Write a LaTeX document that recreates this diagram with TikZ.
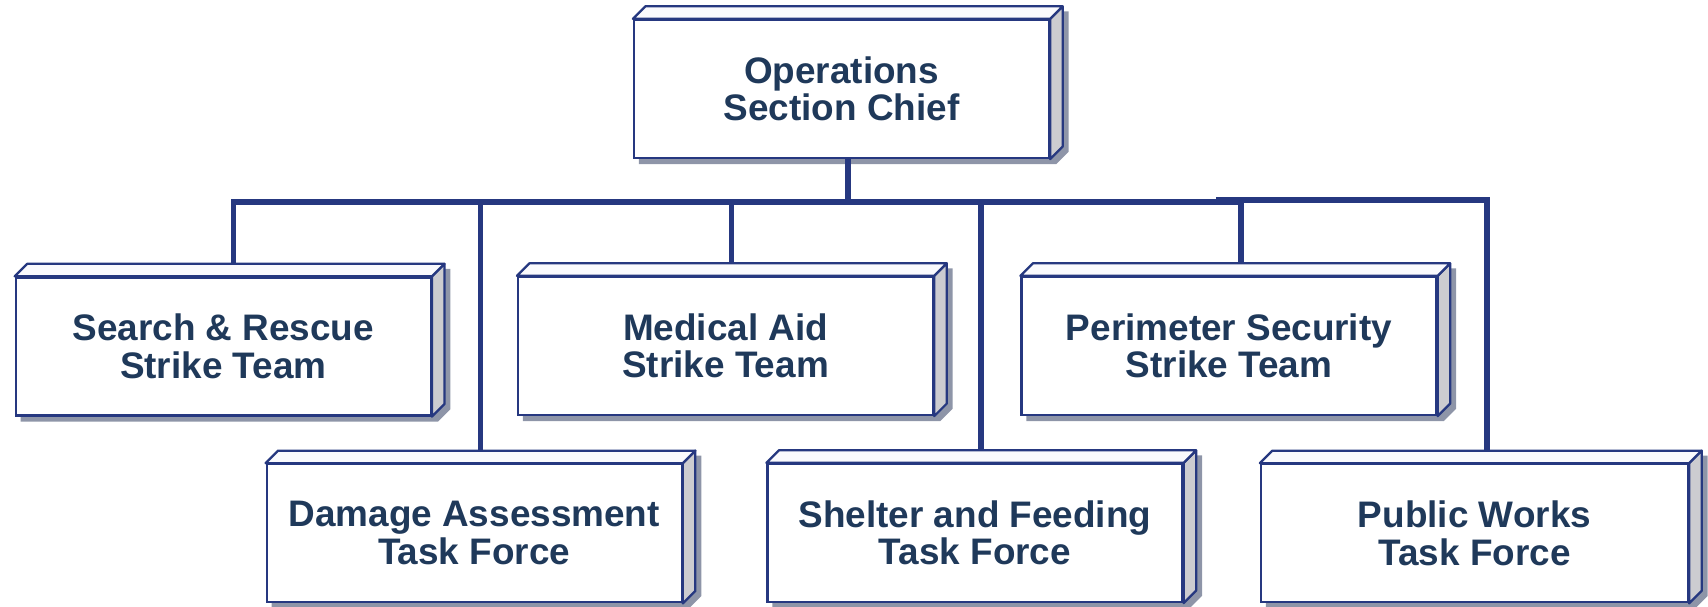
\documentclass[tikz,border=0pt]{standalone}
\usepackage{fontspec}
\setmainfont{Liberation Sans}
\usetikzlibrary{backgrounds}
\definecolor{orgnavy}{RGB}{38,56,128}
\definecolor{orgtext}{RGB}{31,57,90}
\definecolor{orgside}{RGB}{204,204,208}
\definecolor{orgshadow}{RGB}{142,149,168}
\definecolor{orgtop}{RGB}{250,250,253}
\tikzset{
	unit/.style={draw=orgnavy, line width=0.65pt, fill=white, text=orgtext,
		minimum width=4.15cm, minimum height=1.38cm, inner sep=0pt, align=center,
		font=\bfseries\fontsize{10.5}{10.7}\selectfont},
	link/.style={draw=orgnavy, line width=1.5pt},
	face/.style={draw=orgnavy, line width=0.65pt, line join=round}
}
\begin{document}
\begin{tikzpicture}
		\useasboundingbox (0,0) rectangle (17.08,6.07);
		% Capo sezione
		\node [unit] (chief) at (8.415,5.18) {Operations\\Section Chief};
		% Prima fila
		\node [unit] (sar) at (2.233,2.605) {Search \& Rescue\\Strike Team};
		\node [unit] (med) at (7.256,2.61) {Medical Aid\\Strike Team};
		\node [unit] (per) at (12.29,2.61) {Perimeter Security\\Strike Team};
		% Seconda fila
		\node [unit] (dmg) at (4.742,0.737) {Damage Assessment\\Task Force};
		\node [unit] (shl) at (9.75,0.74) {Shelter and Feeding\\Task Force};
		\node [unit, minimum width=4.27cm] (pub) at (14.745,0.737) {Public Works\\Task Force};
		% Ombre e facce 3D
		\begin{scope}[on background layer]
			\foreach \n in {chief,sar,med,per,dmg,shl,pub} {
				\fill [orgshadow] ([shift={(0.06,-0.05)}]\n.south west) -- ([shift={(0.06,-0.05)}]\n.south east) -- ([shift={(0.185,0.075)}]\n.south east) -- ([shift={(0.185,0.075)}]\n.north east) -- ([shift={(0.185,0.075)}]\n.north west) -- ([shift={(0.06,-0.05)}]\n.north west) -- cycle;
				\filldraw [face, fill=orgside] (\n.south east) -- ++(0.125,0.125) -- ([shift={(0.125,0.125)}]\n.north east) -- (\n.north east) -- cycle;
				\filldraw [face, fill=orgtop] (\n.north west) -- ++(0.125,0.125) -- ([shift={(0.125,0.125)}]\n.north east) -- (\n.north east) -- cycle;
			}
		\end{scope}
		% Collegamenti
		\coordinate (bus) at ([shift={(0.065,-0.43)}]chief.south);
		\draw [link] ([xshift=0.065cm]chief.south) -- (bus);
		\foreach \n/\dx in {sar/0.1, med/0.06, per/0.12, dmg/0.06, shl/0.06}
			\draw [link] ([shift={(\dx,0.125)}]\n.north) |- (bus);
		\draw [link] ([shift={(0.125,0.125)}]pub.north) |- ([shift={(3.68,0.02)}]bus);
	\end{tikzpicture}
\end{document}
